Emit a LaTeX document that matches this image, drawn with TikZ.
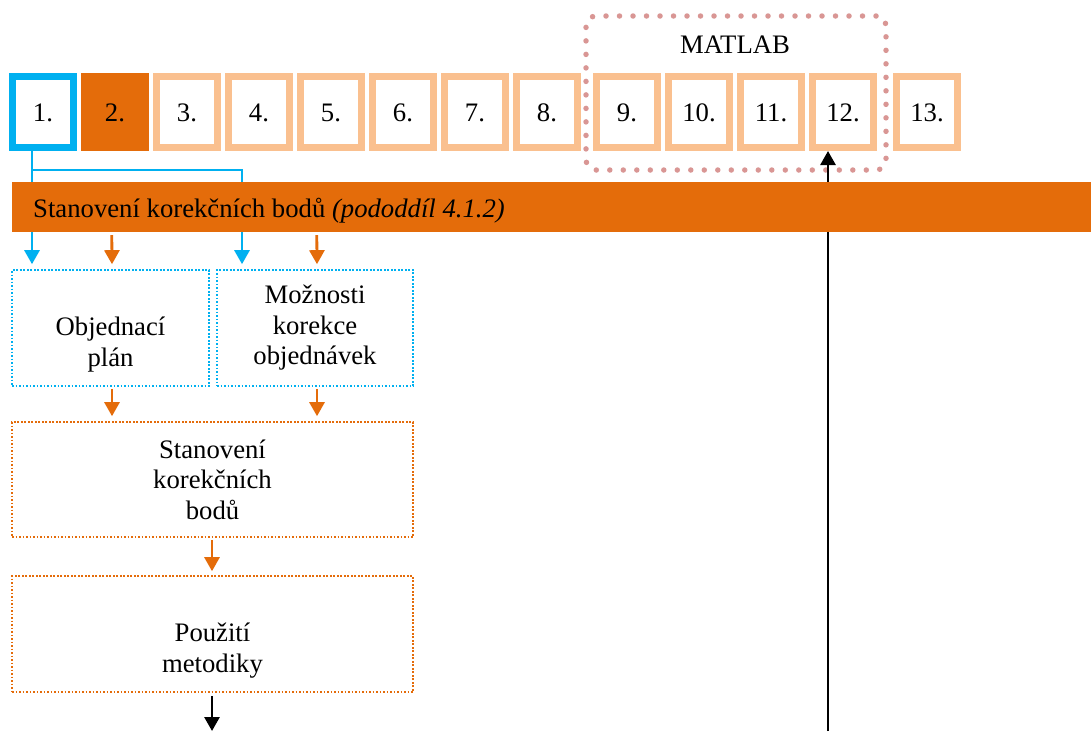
\documentclass[tikz,border=0pt]{standalone}
\usepackage{fontspec}
\setmainfont{Liberation Serif}
\usetikzlibrary{arrows.meta}
\definecolor{accent}{HTML}{E46C0A}
\definecolor{lightor}{HTML}{FAC08F}
\definecolor{skyblue}{HTML}{00B0F0}
\definecolor{rosedot}{HTML}{D99694}
\begin{document}
\begin{tikzpicture}[x=1pt,y=-1pt,font=\fontsize{26.7}{30.5}\selectfont]
\tikzset{
  stepbox/.style={draw=lightor, fill=white, line width=7pt, minimum width=61pt, minimum height=71pt, inner sep=0pt, text height=18pt, text depth=-2pt},
  flowbox/.style={minimum width=197pt, minimum height=116pt, inner sep=0pt, align=center, line width=1.6pt, dash pattern=on 1.6pt off 1.9pt},
  link/.style={line width=2.8pt, -{Triangle[width=15pt,length=14pt]}},
  matlabframe/.style={draw=rosedot, line width=5.5pt, line cap=round, dash pattern=on 0pt off 13.5pt, rounded corners=10pt, minimum width=300pt, minimum height=154pt, inner sep=0pt}
}
\useasboundingbox (0,0) rectangle (1091,731);

% MATLAB group frame
\node[matlabframe] (matlab) at (736,93) {};
\node[anchor=base, inner sep=0pt] (matlabtxt) at (735,53) {MATLAB};

% numbered steps
\node[stepbox, draw=skyblue] (b1) at (43,112) {1.};
\node[stepbox, draw=accent, fill=accent] (b2) at (115,112) {2.};
\foreach \i/\x in {3/187,4/259,5/331,6/403,7/475,8/547,9/627,10/699,11/771,12/843,13/927}
  \node[stepbox] (b\i) at (\x,112) {\i.};

% flow boxes
\node[flowbox, draw=skyblue] (A) at (110.5,328) {\strut\\Objednací\\plán};
\node[flowbox, draw=skyblue, minimum width=196pt] (B) at (315,328) {Možnosti\\korekce\\objednávek};
\node[flowbox, draw=accent, minimum width=401pt, minimum height=115pt] (C) at (212.5,479.5) {Stanovení\\korekčních\\bodů};
\node[flowbox, draw=accent, minimum width=401pt] (D) at (212.5,634) {\strut\\Použití\\metodiky};

% connectors passing behind the bar
\coordinate (fork) at (32,170);
\coordinate (in) at (828,731);
\coordinate (out) at (212,731);
\draw[link, skyblue] ([xshift=-11pt]b1.south) -- ([xshift=-78.5pt,yshift=5pt]A.north);
\draw[link, skyblue] (fork) -| ([xshift=-73pt,yshift=5pt]B.north);
\draw[link, black] (in) -- ([xshift=-15pt]b12.south);

% section bar
\node[fill=accent, minimum width=1079pt, minimum height=50pt, inner sep=0pt] (bar) at (551.5,207) {};
\node[anchor=base west, inner sep=0pt] (bartxt) at (33,217) {Stanovení korekčních bodů \textit{(pododdíl 4.1.2)}};

% orange flow
\draw[link, accent] ([xshift=100pt,yshift=-3pt]bar.south west) -- ([xshift=1.5pt,yshift=5pt]A.north);
\draw[link, accent] ([xshift=305pt,yshift=-3pt]bar.south west) -- ([xshift=2pt,yshift=5pt]B.north);
\draw[link, accent] ([xshift=1.5pt,yshift=-2pt]A.south) -- ([xshift=-100.5pt,yshift=5pt]C.north);
\draw[link, accent] ([xshift=2pt,yshift=-2pt]B.south) -- ([xshift=104.5pt,yshift=5pt]C.north);
\draw[link, accent] ([xshift=-0.5pt,yshift=-2pt]C.south) -- ([xshift=-0.5pt,yshift=4pt]D.north);
\draw[link, black] ([xshift=-0.5pt,yshift=-3pt]D.south) -- (out);
\end{tikzpicture}
\end{document}
